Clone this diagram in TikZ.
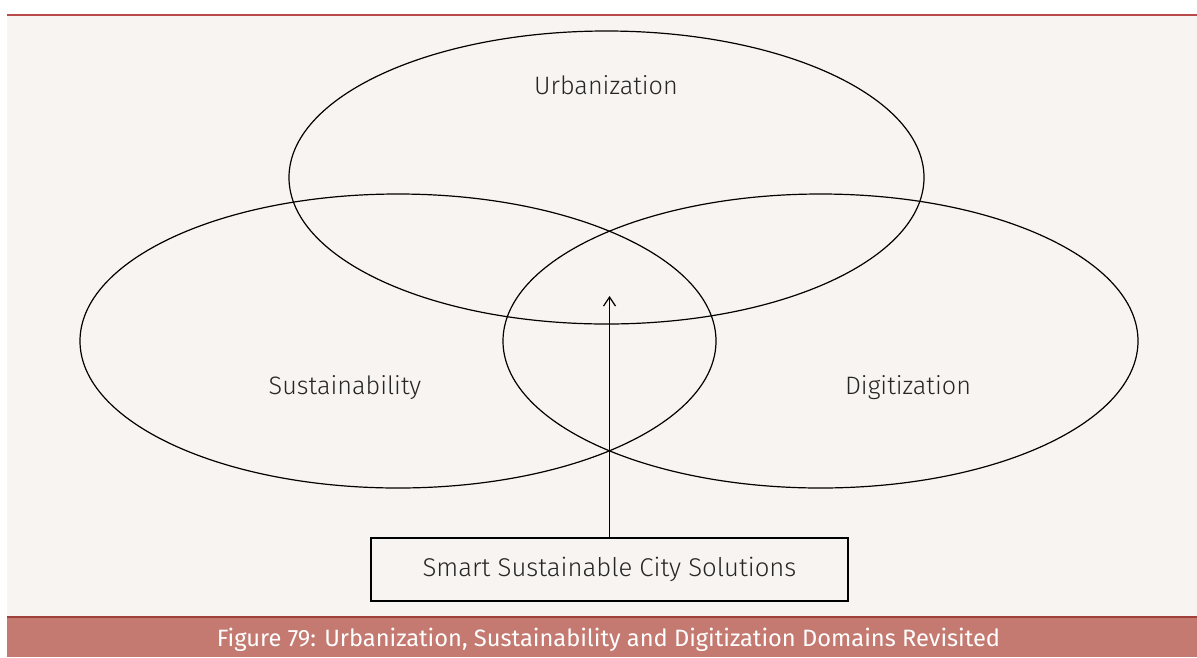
\documentclass[tikz,border=0pt]{standalone}
\usepackage{fontspec}
\setmainfont{Fira Sans}[UprightFont=* Light]
\newfontfamily\capfont{Fira Sans}
\usetikzlibrary{shapes.geometric,arrows.meta}
\definecolor{bgbeige}{HTML}{F8F4F1}
\definecolor{topred}{HTML}{B94A4A}
\definecolor{capbar}{HTML}{C47A70}
\definecolor{capline}{HTML}{A0403A}
\definecolor{txt}{HTML}{262626}
\begin{document}
\begin{tikzpicture}[x=1pt,y=-1pt,
  domainell/.style={draw=black,line width=1.2pt,ellipse,inner sep=0pt},
  lbl/.style={text=txt,font=\fontsize{25.2}{29}\selectfont,inner sep=0pt},
  solbox/.style={draw=black,line width=1.1pt,rectangle,minimum width=477pt,minimum height=63pt,inner sep=0pt,text=txt,font=\fontsize{25.7}{29}\selectfont},
  link/.style={draw=black,line width=1.2pt,-{Straight Barb[length=9pt,width=12pt]}}]
\useasboundingbox (0,0) rectangle (1197,657);
\fill[bgbeige] (7,15) rectangle (1197,617);
\draw[topred,line width=1.5pt] (7,15) -- (1197,15);
\fill[capbar] (7,617) rectangle (1197,657);
\draw[capline,line width=1.2pt] (7,617) -- (1197,617);
\node[text=white,font=\capfont\fontsize{23.65}{27}\selectfont,inner sep=0pt] (cap) at (608.5,640) {Figure 79: Urbanization, Sustainability and Digitization Domains Revisited};

\node[domainell,minimum width=635pt,minimum height=293pt] (urb) at (606.5,177.5) {};
\node[domainell,minimum width=636pt,minimum height=294pt] (sus) at (398,341) {};
\node[domainell,minimum width=635pt,minimum height=294pt] (dig) at (820.5,341) {};

\node[lbl] (urblbl) at (606,85) {Urbanization};
\node[lbl] (suslbl) at (345,388) {Sustainability};
\node[lbl] (diglbl) at (908,388) {Digitization};

\node[solbox] (sol) at (609.5,569.5) {Smart Sustainable City Solutions};
\coordinate (core) at (609.5,296);
\draw[link] (sol.north) -- (core);
\end{tikzpicture}
\end{document}
